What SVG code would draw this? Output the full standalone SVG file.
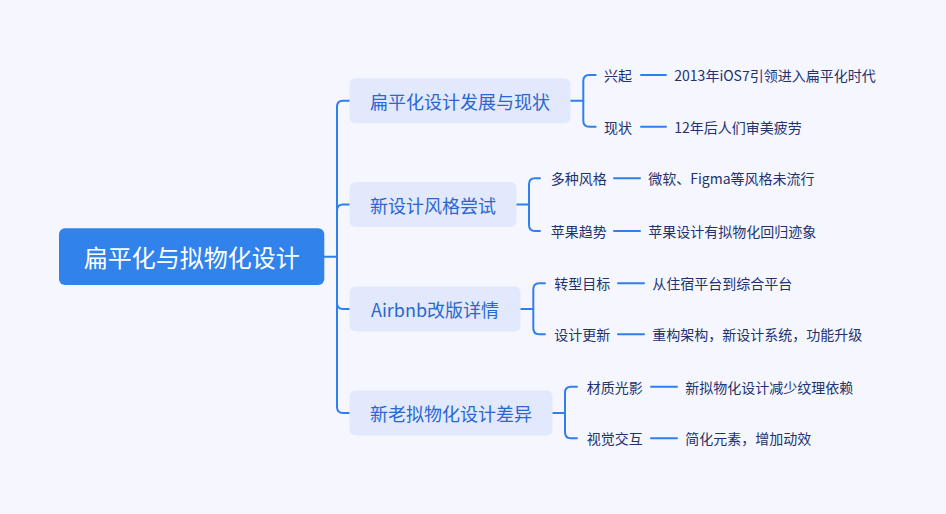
<svg xmlns="http://www.w3.org/2000/svg" width="946" height="514" viewBox="0 0 946 514">
<style>
text{font-family:"Noto Sans CJK SC","Microsoft YaHei",sans-serif;dominant-baseline:central}
.root-box{fill:#3182eb}
.root-t{fill:#ffffff;font-size:24px;text-anchor:middle}
.br-box{fill:#e2e9fc}
.br-t{fill:#2a67d0;font-size:18px;text-anchor:middle}
.lab{fill:#22326f;font-size:14px}
.leaf{fill:#22326f;font-size:14px}
.c{fill:none;stroke:#2f80ed;stroke-width:2;stroke-linecap:round;stroke-linejoin:round}
</style>
<rect width="946" height="514" fill="#f5f6fe"/>
<g id="connectors">
<path class="c" d="M324 256.8 H337"/>
<path class="c" d="M337 256.8 V106.8 Q337 100.8 343 100.8 H349.5"/>
<path class="c" d="M337 256.8 V210.5 Q337 204.5 343 204.5 H349.5"/>
<path class="c" d="M337 256.8 V303 Q337 309 343 309 H349.5"/>
<path class="c" d="M337 256.8 V407 Q337 413 343 413 H349.5"/>
<path class="c" d="M570.5 100.8 H583.3 M583.3 100.8 V81 Q583.3 75 589.3 75 H595.7 M583.3 100.8 V120.7 Q583.3 126.7 589.3 126.7 H595.7"/>
<path class="c" d="M641 75 H666 M641 126.7 H666"/>
<path class="c" d="M516.5 204.5 H529 M529 204.5 V184.3 Q529 178.3 535 178.3 H540 M529 204.5 V225 Q529 231 535 231 H540"/>
<path class="c" d="M614 178.3 H640 M614 231 H640"/>
<path class="c" d="M520.5 309 H533.3 M533.3 309 V289.3 Q533.3 283.3 539.3 283.3 H545 M533.3 309 V328.3 Q533.3 334.3 539.3 334.3 H545"/>
<path class="c" d="M618 283.3 H644 M618 334.3 H644"/>
<path class="c" d="M552.5 413 H565 M565 413 V392.7 Q565 386.7 571 386.7 H577 M565 413 V432.3 Q565 438.3 571 438.3 H577"/>
<path class="c" d="M651 386.7 H677 M651 438.3 H677"/>
</g>
<g id="root">
<rect class="root-box" x="59" y="228.3" width="265.3" height="56.7" rx="6"/>
<text class="root-t" x="191.7" y="256.8">扁平化与拟物化设计</text>
</g>
<g id="b1">
<rect class="br-box" x="349.5" y="78.3" width="221" height="45" rx="6"/>
<text class="br-t" x="460" y="100.8">扁平化设计发展与现状</text>
</g>
<g id="b1-l1"><text class="lab" x="604" y="75">兴起</text></g>
<g id="b1-l1-leaf"><text class="leaf" x="674.3" y="75">2013年iOS7引领进入扁平化时代</text></g>
<g id="b1-l2"><text class="lab" x="604" y="126.7">现状</text></g>
<g id="b1-l2-leaf"><text class="leaf" x="674.3" y="126.7">12年后人们审美疲劳</text></g>
<g id="b2">
<rect class="br-box" x="349.5" y="182" width="167" height="45" rx="6"/>
<text class="br-t" x="433" y="204.5">新设计风格尝试</text>
</g>
<g id="b2-l1"><text class="lab" x="550.7" y="178.3">多种风格</text></g>
<g id="b2-l1-leaf"><text class="leaf" x="648.3" y="178.3">微软、Figma等风格未流行</text></g>
<g id="b2-l2"><text class="lab" x="550.7" y="231">苹果趋势</text></g>
<g id="b2-l2-leaf"><text class="leaf" x="648.3" y="231">苹果设计有拟物化回归迹象</text></g>
<g id="b3">
<rect class="br-box" x="349.5" y="286.5" width="171" height="45" rx="6"/>
<text class="br-t" x="435" y="309">Airbnb改版详情</text>
</g>
<g id="b3-l1"><text class="lab" x="554.3" y="283.3">转型目标</text></g>
<g id="b3-l1-leaf"><text class="leaf" x="652.3" y="283.3">从住宿平台到综合平台</text></g>
<g id="b3-l2"><text class="lab" x="554.3" y="334.3">设计更新</text></g>
<g id="b3-l2-leaf"><text class="leaf" x="652.3" y="334.3">重构架构，新设计系统，功能升级</text></g>
<g id="b4">
<rect class="br-box" x="349.5" y="390.5" width="203" height="45" rx="6"/>
<text class="br-t" x="451" y="413">新老拟物化设计差异</text>
</g>
<g id="b4-l1"><text class="lab" x="586.7" y="386.7">材质光影</text></g>
<g id="b4-l1-leaf"><text class="leaf" x="685.3" y="386.7">新拟物化设计减少纹理依赖</text></g>
<g id="b4-l2"><text class="lab" x="586.7" y="438.3">视觉交互</text></g>
<g id="b4-l2-leaf"><text class="leaf" x="685.3" y="438.3">简化元素，增加动效</text></g>
</svg>
